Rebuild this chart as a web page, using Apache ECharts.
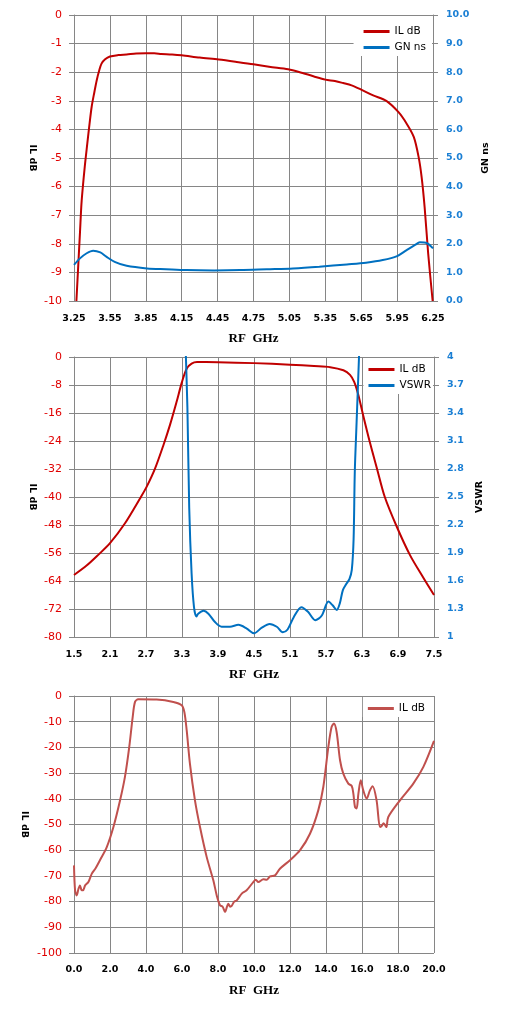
<!DOCTYPE html>
<html>
<head>
<meta charset="utf-8">
<title>IL / GN / VSWR</title>
<script src="https://cdn.jsdelivr.net/npm/echarts@6/dist/echarts.min.js"></script>
<style>
	html, body { margin: 0; padding: 0; background: #fff; }
	#chart { width: 510px; height: 1015px; }
</style>
</head>
<body>
<div id="chart"></div>
<script>
// --- chart 1: passband IL dB and group delay ---
const freq1IL = [3.27, 3.30, 3.314, 3.34, 3.361, 3.38, 3.398, 3.42, 3.44, 3.46, 3.48, 3.51, 3.55, 3.62, 3.69, 3.77, 3.85, 3.92, 3.98, 4.07, 4.15, 4.30, 4.46, 4.61, 4.75, 4.88, 5.04, 5.13, 5.25, 5.35, 5.43, 5.50, 5.57, 5.65, 5.75, 5.86, 5.96, 6.03, 6.09, 6.13, 6.155, 6.18, 6.21, 6.247];
const il1 = [-10, -7.6, -6.5, -5.3, -4.5, -3.8, -3.2, -2.7, -2.28, -1.95, -1.70, -1.55, -1.45, -1.40, -1.38, -1.35, -1.34, -1.34, -1.36, -1.38, -1.41, -1.49, -1.56, -1.64, -1.72, -1.81, -1.90, -1.99, -2.14, -2.26, -2.31, -2.38, -2.46, -2.61, -2.81, -3.00, -3.39, -3.80, -4.27, -4.97, -5.67, -6.72, -8.35, -10];
const freq1GN = [3.25, 3.30, 3.356, 3.41, 3.47, 3.52, 3.59, 3.69, 3.86, 4.02, 4.19, 4.42, 4.64, 4.86, 5.08, 5.30, 5.53, 5.69, 5.83, 5.95, 6.03, 6.10, 6.14, 6.20, 6.25];
const gn1 = [1.26, 1.49, 1.67, 1.76, 1.70, 1.55, 1.37, 1.23, 1.14, 1.11, 1.08, 1.07, 1.08, 1.11, 1.14, 1.20, 1.28, 1.34, 1.43, 1.57, 1.78, 1.96, 2.05, 2.02, 1.84];
const xTicks1 = [3.25, 3.55, 3.85, 4.15, 4.45, 4.75, 5.05, 5.35, 5.65, 5.95, 6.25];

// --- chart 2: IL dB and VSWR ---
const freq2IL = [1.5, 1.71, 1.9, 2.1, 2.35, 2.6, 2.71, 2.85, 2.99, 3.1, 3.21, 3.30, 3.38, 3.46, 3.55, 3.7, 3.9, 4.5, 5.1, 5.5, 5.77, 5.99, 6.1, 6.17, 6.24, 6.32, 6.43, 6.55, 6.68, 6.88, 7.1, 7.32, 7.5];
const il2 = [-62.3, -59.6, -56.6, -53.2, -47.5, -40.4, -37.1, -31.9, -25.2, -19.4, -12.8, -7.1, -3.3, -1.9, -1.45, -1.45, -1.5, -1.75, -2.2, -2.6, -2.9, -3.8, -5.1, -7.1, -10.9, -16.7, -24.3, -31.9, -40, -48.5, -56.6, -63, -68];
const freq2VSWR = [3.35, 3.39, 3.42, 3.46, 3.50, 3.54, 3.57, 3.66, 3.74, 3.85, 3.96, 4.10, 4.24, 4.38, 4.50, 4.63, 4.76, 4.88, 4.98, 5.06, 5.16, 5.29, 5.40, 5.52, 5.63, 5.74, 5.81, 5.88, 5.93, 5.98, 6.04, 6.09, 6.13, 6.16, 6.18, 6.21, 6.25, 6.27];
const vswr2 = [4.3, 3.46, 2.39, 1.68, 1.32, 1.22, 1.25, 1.28, 1.25, 1.16, 1.11, 1.11, 1.13, 1.09, 1.04, 1.10, 1.14, 1.11, 1.05, 1.08, 1.21, 1.32, 1.27, 1.18, 1.23, 1.38, 1.34, 1.29, 1.36, 1.50, 1.57, 1.62, 1.72, 2.05, 2.77, 3.30, 4.0, 4.4];
const xTicks2 = [1.5, 2.1, 2.7, 3.3, 3.9, 4.5, 5.1, 5.7, 6.3, 6.9, 7.5];
const vswrTicks = [1, 1.3, 1.6, 1.9, 2.2, 2.5, 2.8, 3.1, 3.4, 3.7, 4];

// --- chart 3: wideband IL dB ---
const freq3 = [0, 0.06, 0.15, 0.25, 0.33, 0.42, 0.5, 0.62, 0.8, 0.99, 1.2, 1.44, 1.82, 2.19, 2.56, 2.83, 3.07, 3.26, 3.39, 3.57, 4.59, 5.52, 5.98, 6.13, 6.26, 6.44, 6.72, 7.0, 7.37, 7.74, 7.93, 8.11, 8.26, 8.39, 8.5, 8.57, 8.68, 8.76, 8.9, 9.04, 9.32, 9.59, 9.96, 10.1, 10.24, 10.52, 10.7, 10.89, 11.17, 11.44, 12.0, 12.56, 13.11, 13.57, 13.85, 14.13, 14.31, 14.44, 14.59, 14.78, 14.96, 15.24, 15.43, 15.52, 15.61, 15.7, 15.8, 15.93, 16.07, 16.26, 16.44, 16.59, 16.81, 17.0, 17.1, 17.2, 17.35, 17.46, 18.11, 18.85, 19.41, 20.0];
const il3 = [-65.9, -75.6, -77.6, -75, -73.7, -75.5, -75.6, -73.7, -72.4, -69.1, -67, -63.9, -58.8, -51.0, -40.6, -31.5, -19.8, -8.2, -2.3, -1.3, -1.4, -2.3, -3.6, -6.2, -13.3, -26.3, -40.6, -51, -62.6, -71.7, -77.6, -81.4, -82, -84, -82, -80.8, -82, -81.7, -80, -79.5, -76.9, -75.6, -72.4, -71.5, -72.4, -71.3, -71.5, -70.2, -69.8, -67.2, -63.9, -60.0, -53.6, -44.5, -35.4, -19.8, -12.1, -10.7, -14.0, -25, -30.2, -34.1, -35, -38, -43.2, -43.8, -38, -32.8, -36.7, -39.9, -36.7, -35.1, -40.6, -51, -50.5, -49.5, -51, -47.1, -40.6, -34.1, -27.6, -17.5];

const GRID_COLOR = '#868686';
const RED = '#c00000';
const BLUE = '#0070c0';
const RED3 = '#c0504d';
const LABEL_RED = '#e00000';
const LABEL_BLUE = '#1a7fd4';
const FONT = 'DejaVu Sans';

function pairs(xs, ys) {
	return xs.map((x, i) => [x, ys[i]]);
}

function xAxis(gridIndex, min, max, extra) {
	return Object.assign({
		type: 'value',
		gridIndex: gridIndex,
		min: min,
		max: max,
		name: 'RF  GHz',
		nameLocation: 'middle',
		nameGap: 31,
		nameTextStyle: { fontFamily: 'Liberation Serif', fontWeight: 'bold', fontSize: 13, color: '#000' },
		axisLine: { lineStyle: { color: GRID_COLOR, width: 1 } },
		axisTick: { length: 5, lineStyle: { color: GRID_COLOR } },
		axisLabel: { margin: 13, fontFamily: FONT, fontWeight: 'bold', fontSize: 9.5, color: '#000' },
		splitLine: { show: true, lineStyle: { color: GRID_COLOR, width: 1 } }
	}, extra);
}

function leftAxis(gridIndex, min, max, interval, nameGap) {
	return {
		type: 'value',
		gridIndex: gridIndex,
		position: 'left',
		min: min,
		max: max,
		interval: interval,
		name: 'IL dB',
		nameLocation: 'middle',
		nameRotate: -90,
		nameGap: nameGap,
		nameMoveOverlap: false,
		nameTextStyle: { fontFamily: FONT, fontWeight: 'bold', fontSize: 9.5, color: '#000' },
		axisLine: { show: true, lineStyle: { color: GRID_COLOR, width: 1 } },
		axisTick: { show: true, length: 5, lineStyle: { color: GRID_COLOR } },
		axisLabel: { margin: 12, fontFamily: FONT, fontSize: 11, color: LABEL_RED },
		splitLine: { show: true, lineStyle: { color: GRID_COLOR, width: 1 } }
	};
}

function rightAxis(gridIndex, name, nameGap, extra) {
	return Object.assign({
		type: 'value',
		gridIndex: gridIndex,
		position: 'right',
		name: name,
		nameLocation: 'middle',
		nameGap: nameGap,
		nameTextStyle: { fontFamily: FONT, fontWeight: 'bold', fontSize: 9.5, color: '#000' },
		axisLine: { show: true, lineStyle: { color: GRID_COLOR, width: 1 } },
		axisTick: { show: true, length: 5, lineStyle: { color: GRID_COLOR } },
		axisLabel: { margin: 13, fontFamily: FONT, fontWeight: 'bold', fontSize: 9.5, color: LABEL_BLUE },
		splitLine: { show: false }
	}, extra);
}

function lineSeries(name, color, xi, yi, data) {
	return {
		type: 'line',
		name: name,
		xAxisIndex: xi,
		yAxisIndex: yi,
		data: data,
		symbol: 'none',
		smooth: 0.3,
		clip: true,
		lineStyle: { color: color, width: 2 },
		itemStyle: { color: color },
		animation: false
	};
}

// legend boxes sit just inside the plot border so the border stays visible
function legend(right, top, padding, items) {
	return {
		right: right,
		top: top,
		orient: 'vertical',
		backgroundColor: '#fff',
		padding: padding,
		itemGap: 3,
		itemWidth: 26,
		itemHeight: 3,
		icon: 'rect',
		selectedMode: false,
		textStyle: { fontFamily: FONT, fontSize: 10.5, color: '#000', lineHeight: 13 },
		data: items.map(it => ({ name: it[0], itemStyle: { color: it[1] } }))
	};
}

const chart = echarts.init(document.getElementById('chart'), null, { renderer: 'canvas' });

const option = {
	backgroundColor: '#fff',
	animation: false,
	grid: [
		{ left: 74, top: 15, width: 359, height: 286 },
		{ left: 74, top: 357, width: 360, height: 280 },
		{ left: 74, top: 696, width: 360, height: 257 }
	],
	legend: [
		legend(78, 16, [9, 6, 2, 10], [['IL dB', RED], ['GN ns', BLUE]]),
		legend(77, 358, [5, 2, 2, 5], [['IL dB', RED], ['VSWR', BLUE]]),
		legend(77, 697, [5, 8, 2, 5], [['IL dB', RED3]])
	],
	xAxis: [
		xAxis(0, 3.25, 6.25, {
			axisTick: { length: 5, lineStyle: { color: GRID_COLOR }, customValues: xTicks1 },
			axisLabel: { margin: 13, fontFamily: FONT, fontWeight: 'bold', fontSize: 9.5, color: '#000', customValues: xTicks1, formatter: v => v.toFixed(2) }
		}),
		xAxis(1, 1.5, 7.5, {
			axisTick: { length: 5, lineStyle: { color: GRID_COLOR }, customValues: xTicks2 },
			axisLabel: { margin: 13, fontFamily: FONT, fontWeight: 'bold', fontSize: 9.5, color: '#000', customValues: xTicks2, formatter: v => v.toFixed(1) }
		}),
		xAxis(2, 0, 20, {
			interval: 2,
			axisLabel: { margin: 12, fontFamily: FONT, fontWeight: 'bold', fontSize: 9.5, color: '#000', formatter: v => v.toFixed(1) }
		})
	],
	yAxis: [
		leftAxis(0, -10, 0, 1, 37),
		rightAxis(0, 'GN ns', 48, {
			min: 0, max: 10, interval: 1,
			axisLabel: { margin: 13, fontFamily: FONT, fontWeight: 'bold', fontSize: 9.5, color: LABEL_BLUE, formatter: v => v.toFixed(1) }
		}),
		leftAxis(1, -80, 0, 8, 37),
		rightAxis(1, 'VSWR', 38, {
			min: 1, max: 4,
			axisTick: { show: true, length: 5, lineStyle: { color: GRID_COLOR }, customValues: vswrTicks },
			axisLabel: { margin: 13, fontFamily: FONT, fontWeight: 'bold', fontSize: 9.5, color: LABEL_BLUE, customValues: vswrTicks, formatter: v => String(Math.round(v * 10) / 10) }
		}),
		leftAxis(2, -100, 0, 10, 45)
	],
	series: [
		lineSeries('IL dB', RED, 0, 0, pairs(freq1IL, il1)),
		lineSeries('GN ns', BLUE, 0, 1, pairs(freq1GN, gn1)),
		lineSeries('IL dB', RED, 1, 2, pairs(freq2IL, il2)),
		lineSeries('VSWR', BLUE, 1, 3, pairs(freq2VSWR, vswr2)),
		lineSeries('IL dB', RED3, 2, 4, pairs(freq3, il3))
	]
};

chart.setOption(option);
</script>
</body>
</html>
